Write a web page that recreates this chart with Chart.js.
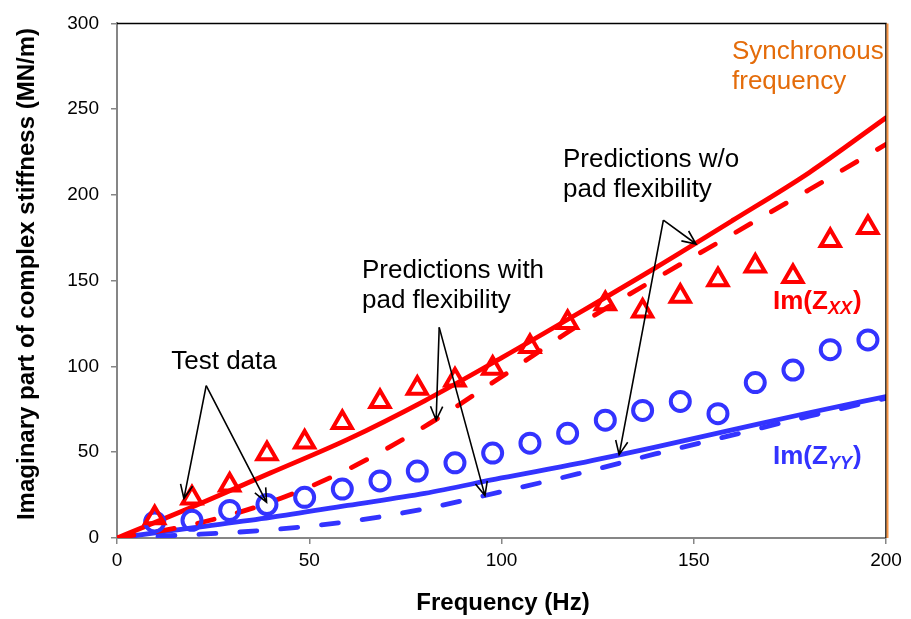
<!DOCTYPE html>
<html>
<head>
<meta charset="utf-8">
<script src="https://cdn.jsdelivr.net/npm/chart.js@4.4.0/dist/chart.umd.min.js"></script>
<style>
body { margin:0; background:#fff; }
#caixa { width:911px; height:619px; }
</style>
</head>
<body>
<div id="caixa"><canvas id="grafico" width="911" height="619"></canvas></div>
<script>
// frequencias dos pontos medidos (Hz)
var freqTeste = [9.8, 19.5, 29.3, 39, 48.8, 58.6, 68.4, 78.1, 87.9, 97.7, 107.4, 117.2, 127, 136.7, 146.5, 156.3, 166, 175.8, 185.5, 195.3];
// Im(Zxx) medido - triangulos
var zxxTeste = [11.8, 23.3, 30.9, 49.1, 56, 67.4, 79.6, 87.3, 92.1, 98.9, 111.6, 125.6, 136.6, 132.3, 140.9, 150.5, 158.5, 152.4, 173.4, 181];
// Im(Zyy) medido - circulos
var zyyTeste = [9.4, 10.3, 16.1, 19.5, 23.7, 28.5, 33.3, 39, 43.8, 49.5, 55.3, 61, 68.7, 74.4, 79.6, 72.5, 90.6, 97.9, 109.8, 115.5];

// curvas de previsao
var freqCurva = [0, 20, 40, 60, 80, 100, 120, 140, 160, 180, 200];
var zxxSemFlex = [0, 18.5, 38, 57.5, 80, 105, 131, 157.5, 185, 213, 245];
var zxxComFlex = [0, 8, 21, 40, 65, 94, 124, 151, 177, 203, 229.5];
var zyySemFlex = [0, 6, 12, 19, 26, 35, 43.5, 53, 63, 73, 82.5];
var zyyComFlex = [0, 2, 4.8, 9.5, 17, 27, 37.5, 49, 60, 71, 81.5];

var ticksX = [0, 50, 100, 150, 200];
var ticksY = [0, 50, 100, 150, 200, 250, 300];

var vermelho = '#FF0000';
var azul = '#3333FF';
var laranja = '#E46C0A';
var fonte = '"Liberation Sans", Arial, sans-serif';

function pares(xs, ys) {
    return xs.map(function (x, i) { return { x: x, y: ys[i] }; });
}

function linha(dados, cor, tracejado) {
    return {
        data: dados,
        showLine: true,
        borderColor: cor,
        borderWidth: 4.8,
        borderDash: tracejado ? [17, 24] : [],
        borderCapStyle: 'round',
        pointRadius: 0,
        cubicInterpolationMode: 'monotone',
        fill: false
    };
}

function marcador(dados, cor, estilo, raio) {
    return {
        data: dados,
        showLine: false,
        pointStyle: estilo,
        pointRadius: raio,
        borderColor: cor,
        backgroundColor: 'rgba(0,0,0,0)',
        borderWidth: 4
    };
}

function seta(ctx, x0, y0, x1, y1) {
    var ang = Math.atan2(y1 - y0, x1 - x0);
    var tam = 15, ab = 0.42;
    ctx.beginPath();
    ctx.moveTo(x0, y0);
    ctx.lineTo(x1, y1);
    ctx.moveTo(x1 - tam * Math.cos(ang - ab), y1 - tam * Math.sin(ang - ab));
    ctx.lineTo(x1, y1);
    ctx.lineTo(x1 - tam * Math.cos(ang + ab), y1 - tam * Math.sin(ang + ab));
    ctx.stroke();
}

function rotuloIm(ctx, x, y, sub, cor) {
    ctx.fillStyle = cor;
    ctx.textAlign = 'left';
    ctx.textBaseline = 'alphabetic';
    ctx.font = 'bold 26px ' + fonte;
    ctx.fillText('Im(Z', x, y);
    var w = ctx.measureText('Im(Z').width;
    ctx.font = 'italic bold 18px ' + fonte;
    ctx.fillText(sub, x + w, y + 5);
    var w2 = ctx.measureText(sub).width;
    ctx.font = 'bold 26px ' + fonte;
    ctx.fillText(')', x + w + w2 + 1, y);
}

var desenhos = {
    id: 'desenhos',
    afterDatasetsDraw: function (chart) {
        var ctx = chart.ctx, a = chart.chartArea;
        var sx = chart.scales.x, sy = chart.scales.y;
        function px(v) { return sx.getPixelForValue(v); }
        function py(v) { return sy.getPixelForValue(v); }
        ctx.save();

        // borda de cima e direita
        ctx.strokeStyle = '#000';
        ctx.lineWidth = 1.5;
        ctx.beginPath();
        ctx.moveTo(a.left, a.top);
        ctx.lineTo(a.right, a.top);
        ctx.lineTo(a.right, a.bottom);
        ctx.stroke();

        // frequencia sincrona
        ctx.strokeStyle = '#F79646';
        ctx.lineWidth = 2;
        ctx.beginPath();
        ctx.moveTo(px(200) + 1.5, a.top);
        ctx.lineTo(px(200) + 1.5, a.bottom);
        ctx.stroke();

        // setas
        ctx.strokeStyle = '#000';
        ctx.lineWidth = 1.6;
        seta(ctx, px(23.2), py(88.8), px(17.4), py(23));
        seta(ctx, px(23.2), py(88.8), px(38.9), py(20.8));
        seta(ctx, px(83.8), py(122.8), px(83), py(68.7));
        seta(ctx, px(83.8), py(122.8), px(95.7), py(24.7));
        seta(ctx, px(142.1), py(185.3), px(150.6), py(171.4));
        seta(ctx, px(142.1), py(185.3), px(130.6), py(48.6));

        // textos
        ctx.fillStyle = '#000';
        ctx.textBaseline = 'middle';
        ctx.font = '26px ' + fonte;
        ctx.textAlign = 'center';
        ctx.fillText('Test data', 224, 362);
        ctx.textAlign = 'left';
        ctx.fillText('Predictions with', 362, 271);
        ctx.fillText('pad flexibility', 362, 301);
        ctx.fillText('Predictions w/o', 563, 160);
        ctx.fillText('pad flexibility', 563, 190);

        ctx.fillStyle = laranja;
        ctx.fillText('Synchronous', 732, 52);
        ctx.fillText('frequency', 732, 82);

        rotuloIm(ctx, 773, 309, 'XX', vermelho);
        rotuloIm(ctx, 773, 464, 'YY', azul);

        // titulos dos eixos
        ctx.fillStyle = '#000';
        ctx.font = 'bold 24px ' + fonte;
        ctx.textAlign = 'center';
        ctx.textBaseline = 'middle';
        ctx.fillText('Frequency (Hz)', 503, 603);
        ctx.translate(27, 274);
        ctx.rotate(-Math.PI / 2);
        ctx.fillText('Imaginary part of complex stiffness (MN/m)', 0, 0);
        ctx.restore();
    }
};

var ctx = document.getElementById('grafico').getContext('2d');
var chart = new Chart(ctx, {
    type: 'scatter',
    data: {
        datasets: [
            marcador(pares(freqTeste, zxxTeste), vermelho, 'triangle', 11),
            marcador(pares(freqTeste, zyyTeste), azul, 'circle', 9.5),
            linha(pares(freqCurva, zxxSemFlex), vermelho, false),
            linha(pares(freqCurva, zxxComFlex), vermelho, true),
            linha(pares(freqCurva, zyySemFlex), azul, false),
            linha(pares(freqCurva, zyyComFlex), azul, true)
        ]
    },
    options: {
        responsive: false,
        animation: false,
        layout: { padding: { left: 0, right: 25, top: 15, bottom: 0 } },
        plugins: { legend: { display: false }, tooltip: { enabled: false } },
        scales: {
            x: {
                type: 'linear', min: 0, max: 200,
                afterBuildTicks: function (s) { s.ticks = ticksX.map(function (v) { return { value: v }; }); },
                afterFit: function (s) { s.height = 81; },
                grid: { drawOnChartArea: false, drawTicks: true, tickLength: 6, color: '#868686', lineWidth: 1.5 },
                border: { color: '#868686', width: 2 },
                ticks: { color: '#000', font: { family: fonte, size: 19 }, padding: 5, maxRotation: 0 }
            },
            y: {
                type: 'linear', min: 0, max: 300,
                afterBuildTicks: function (s) { s.ticks = ticksY.map(function (v) { return { value: v }; }); },
                afterFit: function (s) { s.width = 117; },
                grid: { drawOnChartArea: false, drawTicks: true, tickLength: 6, color: '#868686', lineWidth: 1.5 },
                border: { color: '#868686', width: 2 },
                ticks: { color: '#000', font: { family: fonte, size: 19 }, padding: 12 }
            }
        }
    },
    plugins: [desenhos]
});
</script>
</body>
</html>
